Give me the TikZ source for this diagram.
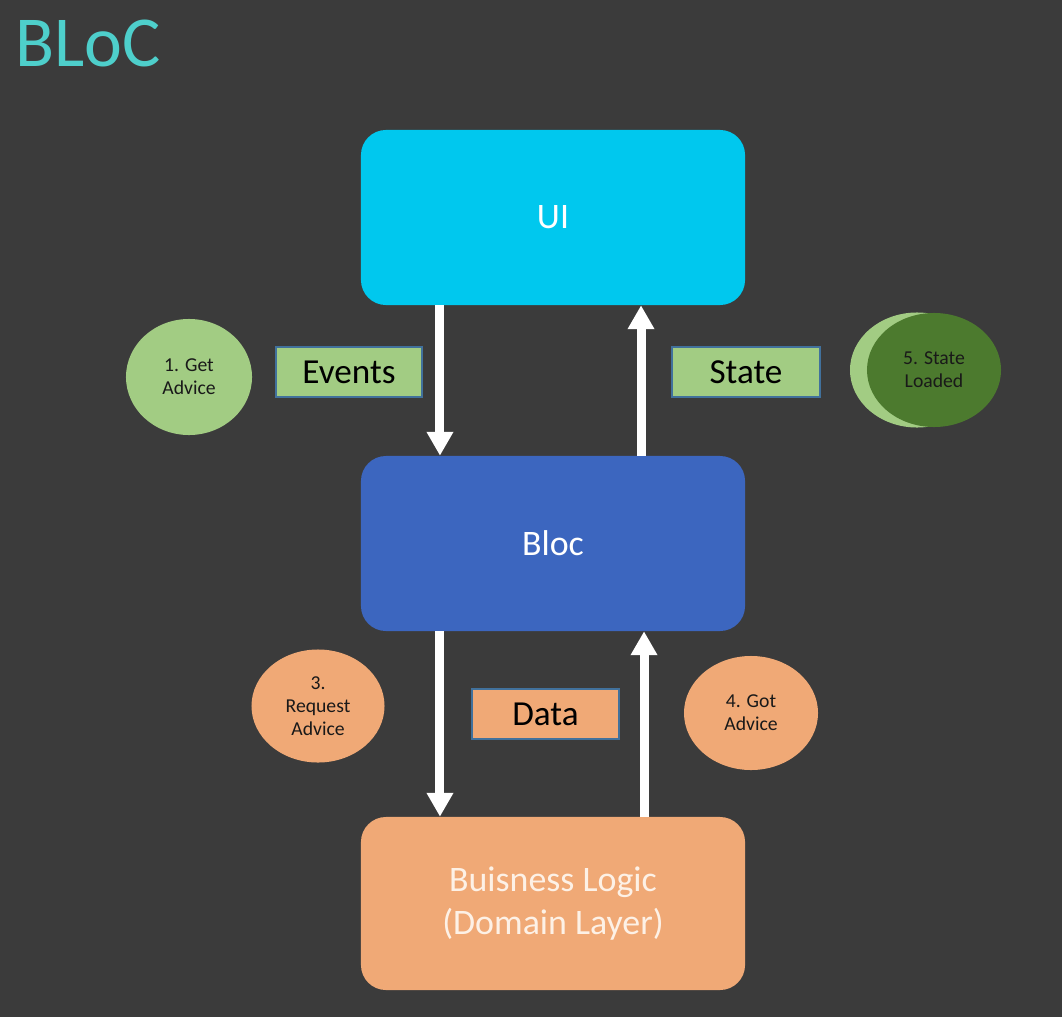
\documentclass[tikz,border=0pt]{standalone}
\usepackage{fontspec}
\setmainfont{Carlito}
\usetikzlibrary{arrows.meta,shapes.geometric}

\definecolor{bgdark}{HTML}{3B3B3B}
\definecolor{titlecyan}{HTML}{4ECFCB}
\definecolor{uicyan}{HTML}{00C8EE}
\definecolor{blocblue}{HTML}{3C66BF}
\definecolor{logicorange}{HTML}{F0A976}
\definecolor{lightgreen}{HTML}{A2CC83}
\definecolor{darkgreen}{HTML}{4C7A2E}
\definecolor{tagborder}{HTML}{41719C}
\definecolor{softwhite}{HTML}{FDF1E6}

\tikzset{
  layer/.style={rounded corners=0.625cm, minimum width=9.6cm, minimum height=4.375cm,
    align=center, text=white, font=\fontsize{25.5}{31}\selectfont},
  tag/.style={draw=tagborder, line width=0.8pt, minimum width=3.65cm, minimum height=1.25cm,
    text=black, font=\fontsize{25}{28}\selectfont},
  bubble/.style={ellipse, minimum width=3.3cm, minimum height=2.85cm, inner sep=0pt,
    align=center, text=black!90, font=\fontsize{14}{16.5}\selectfont},
  flow/.style={white, line width=6.4pt, -{Triangle[width=18pt,length=17pt]}}
}

\begin{document}
\begin{tikzpicture}[x=0.025cm, y=-0.025cm]
			\fill[bgdark] (0,0) rectangle (1062,1017);

			% title
			\node[anchor=base west, inner sep=0pt, text=titlecyan, font=\fontsize{51}{51}\selectfont] (title) at (15,67) {BLoC};

			% layers
			\node[layer, fill=uicyan] (ui) at (553,217.5) {UI};
			\node[layer, fill=blocblue] (bloc) at (553,543.5) {Bloc};
			\node[layer, fill=logicorange, minimum height=4.325cm, text=softwhite] (logic) at (553,903.5) {Buisness Logic\\(Domain Layer)};

			% arrows between layers
			\draw[flow] ([xshift=-2.825cm]ui.south) -- ([xshift=-2.825cm]bloc.north);
			\draw[flow] ([xshift=2.2cm]bloc.north) -- ([xshift=2.2cm]ui.south);
			\draw[flow] ([xshift=-2.825cm]bloc.south) -- ([xshift=-2.825cm]logic.north);
			\draw[flow] ([xshift=2.275cm]logic.north) -- ([xshift=2.275cm]bloc.south);

			% labels for arrows
			\node[tag, fill=lightgreen] (events) at (349,372) {Events};
			\node[tag, fill=lightgreen, minimum width=3.7cm] (state) at (746,372) {State};
			\node[tag, fill=logicorange, minimum width=3.675cm] (data) at (545.5,714) {Data};

			% steps
			\node[bubble, fill=lightgreen, minimum width=3.15cm, minimum height=2.9cm] (getadvice) at (189,377) {1. Get\\Advice};
			\node[bubble, fill=logicorange, minimum width=3.325cm, minimum height=2.825cm] (request) at (318,706) {3.\\Request\\Advice};
			\node[bubble, fill=logicorange, minimum width=3.35cm] (gotadvice) at (751,713) {4. Got\\Advice};
			\node[bubble, fill=lightgreen, minimum width=3.35cm, minimum height=2.875cm] (loadedback) at (917,370) {};
			\node[bubble, fill=darkgreen, minimum width=3.35cm] (loaded) at (934,370) {5. State\\Loaded};

		\end{tikzpicture}
\end{document}
